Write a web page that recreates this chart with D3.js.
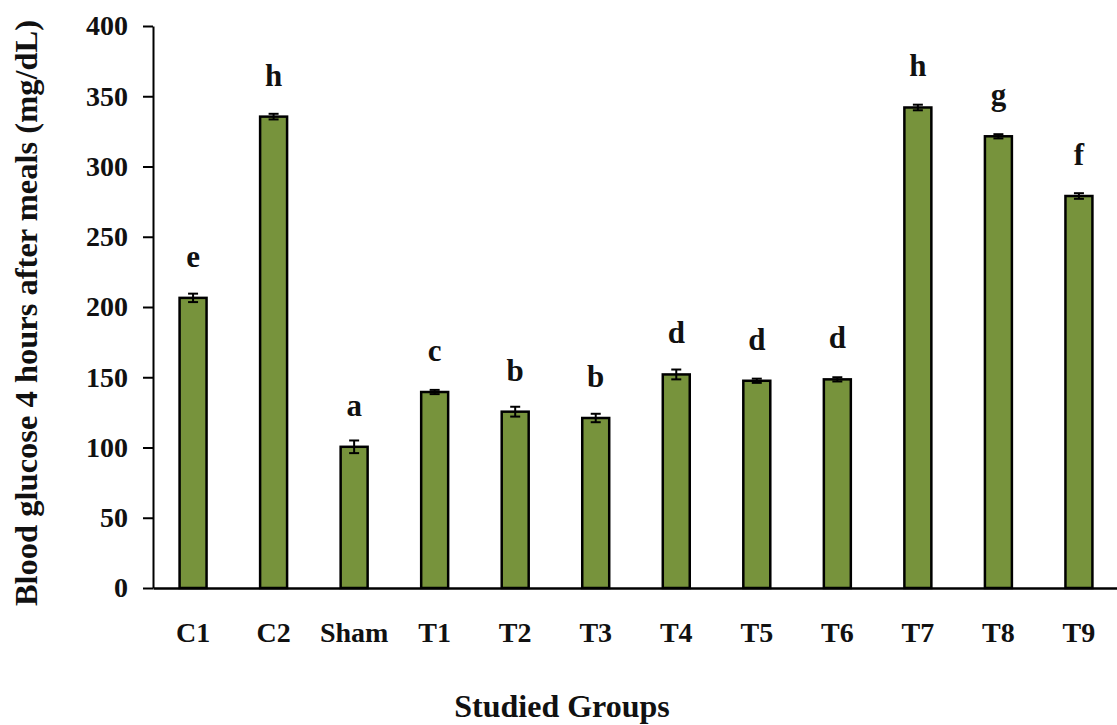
<!DOCTYPE html>
<html>
<head>
<meta charset="utf-8">
<script src="https://cdn.jsdelivr.net/npm/d3@7"></script>
<style>
  body { margin: 0; background: #fff; }
  text { font-family: "Liberation Serif", "Times New Roman", serif; font-weight: bold; fill: #111; }
</style>
</head>
<body>
<div id="chart"></div>
<script>
// data
var groups  = ["C1", "C2", "Sham", "T1", "T2", "T3", "T4", "T5", "T6", "T7", "T8", "T9"];
var glucose = [206.5, 335.5, 100.5, 139.5, 125.5, 121, 152, 147.5, 148.5, 342, 321.5, 279];
var errors  = [3, 2, 4.5, 1.5, 3.5, 3, 3.5, 1.5, 1.5, 2, 1.5, 2];
var letters = ["e", "h", "a", "c", "b", "b", "d", "d", "d", "h", "g", "f"];
var yTicks  = [0, 50, 100, 150, 200, 250, 300, 350, 400];

var width = 1117, height = 725;
var x0 = 153, x1 = 1119, yBottom = 588, yTop = 26;

var svg = d3.select("#chart").append("svg")
    .attr("width", width)
    .attr("height", height);

var data = groups.map(function(g, i) {
    return { group: g, value: glucose[i], err: errors[i], letter: letters[i] };
});

var xScale = d3.scaleBand().domain(groups).range([x0, x1]).paddingInner(0.665).paddingOuter(0.33);
var yScale = d3.scaleLinear().domain([0, 400]).range([yBottom, yTop]);

// y axis
var yAxis = svg.append("g")
    .attr("transform", "translate(" + x0 + ",0)")
    .call(d3.axisLeft(yScale).tickValues(yTicks).tickSize(10).tickPadding(15).tickSizeOuter(0));
yAxis.select(".domain").attr("stroke", "#000").attr("stroke-width", 2);
yAxis.selectAll(".tick line").attr("stroke", "#000").attr("stroke-width", 2);
yAxis.selectAll(".tick text").attr("font-size", "28px").attr("fill", "#111");

// bars
svg.selectAll("rect.bar")
    .data(data)
    .enter()
    .append("rect")
    .attr("class", "bar")
    .attr("x", d => xScale(d.group))
    .attr("y", d => yScale(d.value))
    .attr("width", xScale.bandwidth())
    .attr("height", d => yBottom - yScale(d.value))
    .attr("fill", "#77933C")
    .attr("stroke", "#000")
    .attr("stroke-width", 2.5);

// error bars
var eb = svg.selectAll("g.err")
    .data(data)
    .enter()
    .append("g")
    .attr("class", "err")
    .attr("stroke", "#000")
    .attr("stroke-width", 2);

eb.append("line")
    .attr("x1", d => xScale(d.group) + xScale.bandwidth() / 2)
    .attr("x2", d => xScale(d.group) + xScale.bandwidth() / 2)
    .attr("y1", d => yScale(d.value - d.err))
    .attr("y2", d => yScale(d.value + d.err));

[-1, 1].forEach(function(s) {
    eb.append("line")
        .attr("x1", d => xScale(d.group) + xScale.bandwidth() / 2 - 5)
        .attr("x2", d => xScale(d.group) + xScale.bandwidth() / 2 + 5)
        .attr("y1", d => yScale(d.value + s * d.err))
        .attr("y2", d => yScale(d.value + s * d.err));
});

// significance letters
svg.selectAll("text.letter")
    .data(data)
    .enter()
    .append("text")
    .attr("class", "letter")
    .attr("x", d => xScale(d.group) + xScale.bandwidth() / 2)
    .attr("y", d => yScale(d.value) - 31)
    .attr("text-anchor", "middle")
    .attr("font-size", "31px")
    .text(d => d.letter);

// x axis
var xAxis = svg.append("g")
    .attr("transform", "translate(0," + yBottom + ")")
    .call(d3.axisBottom(xScale).tickSize(0).tickPadding(34));
xAxis.select(".domain").attr("stroke", "#000").attr("stroke-width", 2.5);
xAxis.selectAll(".tick text").attr("font-size", "28px").attr("fill", "#111");

// axis titles
svg.append("text")
    .attr("transform", "translate(37,313) rotate(-90)")
    .attr("text-anchor", "middle")
    .attr("font-size", "32.5px")
    .text("Blood glucose 4 hours after meals (mg/dL)");

svg.append("text")
    .attr("x", 562)
    .attr("y", 717)
    .attr("text-anchor", "middle")
    .attr("font-size", "32px")
    .text("Studied Groups");
</script>
</body>
</html>
